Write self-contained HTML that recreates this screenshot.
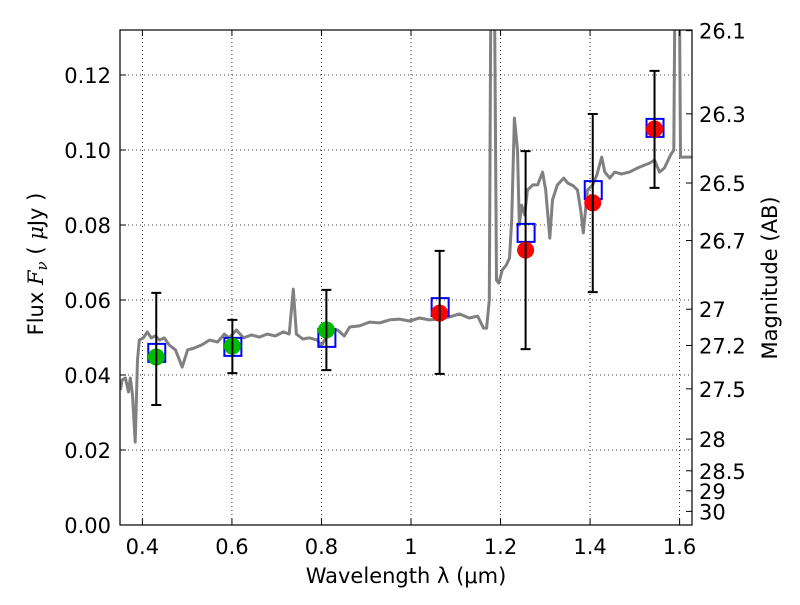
<!DOCTYPE html>
<html><head><meta charset="utf-8"><style>
body{margin:0;background:#fff}
svg text{font-family:"DejaVu Sans","Liberation Sans",sans-serif;fill:#000}
</style></head><body>
<svg id="c" width="800" height="600" xmlns="http://www.w3.org/2000/svg">
<defs><clipPath id="clip"><rect x="120" y="30" width="572" height="495"/></clipPath></defs>
<rect x="0" y="0" width="800" height="600" fill="#fff"/>
<g id="grid"></g><g id="plot" clip-path="url(#clip)"></g><g id="axes"></g>
</svg>
<script>
const specLam=[0.351,0.355,0.362,0.369,0.373,0.378,0.384,0.389,0.393,0.402,0.411,0.420,0.429,0.438,0.449,0.460,0.474,0.489,0.501,0.516,0.532,0.550,0.568,0.583,0.594,0.610,0.626,0.644,0.661,0.679,0.697,0.715,0.728,0.737,0.744,0.758,0.773,0.791,0.800,0.818,0.836,0.851,0.863,0.885,0.907,0.930,0.952,0.974,0.996,1.019,1.041,1.064,1.086,1.108,1.130,1.149,1.162,1.169,1.175,1.178,1.187,1.191,1.196,1.204,1.213,1.220,1.225,1.231,1.238,1.242,1.247,1.254,1.260,1.272,1.283,1.294,1.301,1.310,1.316,1.327,1.341,1.350,1.363,1.372,1.379,1.385,1.394,1.406,1.415,1.426,1.433,1.444,1.455,1.470,1.488,1.506,1.522,1.533,1.544,1.555,1.566,1.580,1.587,1.589,1.600,1.602,1.627];
const specFlux=[0.036,0.0387,0.0392,0.0355,0.0392,0.0347,0.0221,0.044,0.0493,0.0499,0.0515,0.0499,0.0504,0.0493,0.0499,0.048,0.0467,0.0421,0.0467,0.0472,0.048,0.0493,0.0488,0.0509,0.0499,0.052,0.0499,0.0507,0.0501,0.0509,0.0504,0.0515,0.0509,0.0629,0.0509,0.0496,0.0499,0.0493,0.0477,0.052,0.052,0.0504,0.0528,0.0531,0.0541,0.0539,0.0547,0.0549,0.0544,0.0552,0.0547,0.0549,0.0555,0.0563,0.0552,0.0557,0.0525,0.0525,0.06,0.134,0.134,0.0653,0.0645,0.068,0.0693,0.0712,0.0813,0.1085,0.1,0.08,0.0853,0.0827,0.0893,0.0907,0.0907,0.0941,0.0893,0.0765,0.0867,0.0907,0.0925,0.0912,0.0904,0.0893,0.084,0.0779,0.0893,0.0907,0.0933,0.0981,0.0941,0.0925,0.0941,0.0936,0.0941,0.0952,0.096,0.0965,0.0973,0.0941,0.0952,0.0987,0.1,0.134,0.134,0.0981,0.0981];
const bandLam=[0.431,0.601,0.811,1.064,1.256,1.406,1.544];
const obsFlux=[0.0448,0.0477,0.052,0.0565,0.0733,0.0859,0.1056];
const errLow=[0.032,0.0405,0.0413,0.0403,0.0469,0.0621,0.0899];
const errHigh=[0.0619,0.0547,0.0627,0.0731,0.0997,0.1096,0.1211];
const modelFlux=[0.0459,0.0475,0.0499,0.0581,0.0779,0.0893,0.1059];
const obsColor=['#00bb00','#00bb00','#00bb00','red','red','red','red'];
const xTicks=[0.4,0.6,0.8,1,1.2,1.4,1.6];
const xTickLabels=['0.4','0.6','0.8','1','1.2','1.4','1.6'];
const yTicks=[0,0.02,0.04,0.06,0.08,0.1,0.12];
const yTickLabels=['0.00','0.02','0.04','0.06','0.08','0.10','0.12'];
const magTicks=[26.1,26.3,26.5,26.7,27,27.2,27.5,28,28.5,29,30];
const magLabels=['26.1','26.3','26.5','26.7','27','27.2','27.5','28','28.5','29','30'];

const X0=120,X1=692,Y0=30,Y1=525,xmin=0.35,xmax=1.6277,ymin=0,ymax=0.132;
const sx=v=>X0+(v-xmin)/(xmax-xmin)*(X1-X0);
const sy=v=>Y1-(v-ymin)/(ymax-ymin)*(Y1-Y0);
const NS='http://www.w3.org/2000/svg';
function mk(tag,attrs,parent,text){const e=document.createElementNS(NS,tag);for(const k in attrs)e.setAttribute(k,attrs[k]);if(text!==undefined)e.textContent=text;parent.appendChild(e);return e;}
const grid=document.getElementById('grid'),plot=document.getElementById('plot'),axes=document.getElementById('axes');

xTicks.forEach((t,i)=>{const x=sx(t);
 let g=mk('line',{x1:x,x2:x,y1:Y0,y2:Y1,stroke:'#000','stroke-width':0.8,'stroke-dasharray':'1,3'},grid);
 
 mk('line',{x1:x,x2:x,y1:Y1,y2:Y1-6,stroke:'#000'},axes);
 mk('line',{x1:x,x2:x,y1:Y0,y2:Y0+6,stroke:'#000'},axes);
 let l=mk('text',{x:x,y:554,'font-size':21,'text-anchor':'middle'},axes,xTickLabels[i]);
 
});
yTicks.forEach((t,i)=>{const y=sy(t);
 let g=mk('line',{x1:X0,x2:X1,y1:y,y2:y,stroke:'#000','stroke-width':0.8,'stroke-dasharray':'1,3'},grid);
 
 mk('line',{x1:X0,x2:X0+6,y1:y,y2:y,stroke:'#000'},axes);
 let l=mk('text',{x:111,y:y+8,'font-size':21,'text-anchor':'end'},axes,yTickLabels[i]);
 
});
magTicks.forEach((m,i)=>{const y=sy(Math.pow(10,(23.9-m)/2.5));
 mk('line',{x1:X1,x2:X1-6,y1:y,y2:y,stroke:'#000'},axes);
 let l=mk('text',{x:699,y:y+8,'font-size':21},axes,magLabels[i]);
 
});

let d=specLam.map((l,i)=>(i?'L':'M')+sx(l).toFixed(1)+','+sy(specFlux[i]).toFixed(1)).join('');
let sp=mk('path',{d:d,fill:'none',stroke:'#808080','stroke-width':3,'stroke-linejoin':'round'},plot);


bandLam.forEach((l,i)=>{const x=sx(l);
 let b=mk('rect',{x:x-8,y:sy(modelFlux[i])-9,width:17,height:18,fill:'none',stroke:'#0000ff','stroke-width':2},plot);
 
});
bandLam.forEach((l,i)=>{const x=sx(l);
 let c=mk('circle',{cx:x,cy:sy(obsFlux[i]),r:8.5,fill:obsColor[i]},plot);
 
 const yl=sy(errLow[i]),yh=sy(errHigh[i]);
 let e=mk('path',{d:`M${x},${yl}L${x},${yh}M${x-5},${yl}L${x+5},${yl}M${x-5},${yh}L${x+5},${yh}`,stroke:'#000','stroke-width':2,fill:'none'},plot);
 
});

let fr=mk('rect',{x:X0,y:Y0,width:X1-X0,height:Y1-Y0,fill:'none',stroke:'#000','stroke-width':1.2},axes);

let xl=mk('text',{x:406,y:583,'font-size':21,'text-anchor':'middle'},axes,'Wavelength  λ (μm)');

let yl=mk('text',{x:0,y:0,'font-size':21,'text-anchor':'middle',transform:'translate(43,264) rotate(-90)'},axes,'');

mk('tspan',{},yl,'Flux  ');
mk('tspan',{'font-style':'italic','font-family':'"DejaVu Serif",serif'},yl,'F');
mk('tspan',{'font-style':'italic','font-size':15,dy:4,'font-family':'"DejaVu Serif",serif'},yl,'ν');
mk('tspan',{dy:-4},yl,'  ( ');
mk('tspan',{'font-style':'italic','font-family':'"DejaVu Serif",serif'},yl,'μ');
mk('tspan',{},yl,'Jy )');
let rl=mk('text',{x:0,y:0,'font-size':21,'text-anchor':'middle',transform:'translate(777,278) rotate(-90)'},axes,'Magnitude (AB)');

</script>
</body></html>
